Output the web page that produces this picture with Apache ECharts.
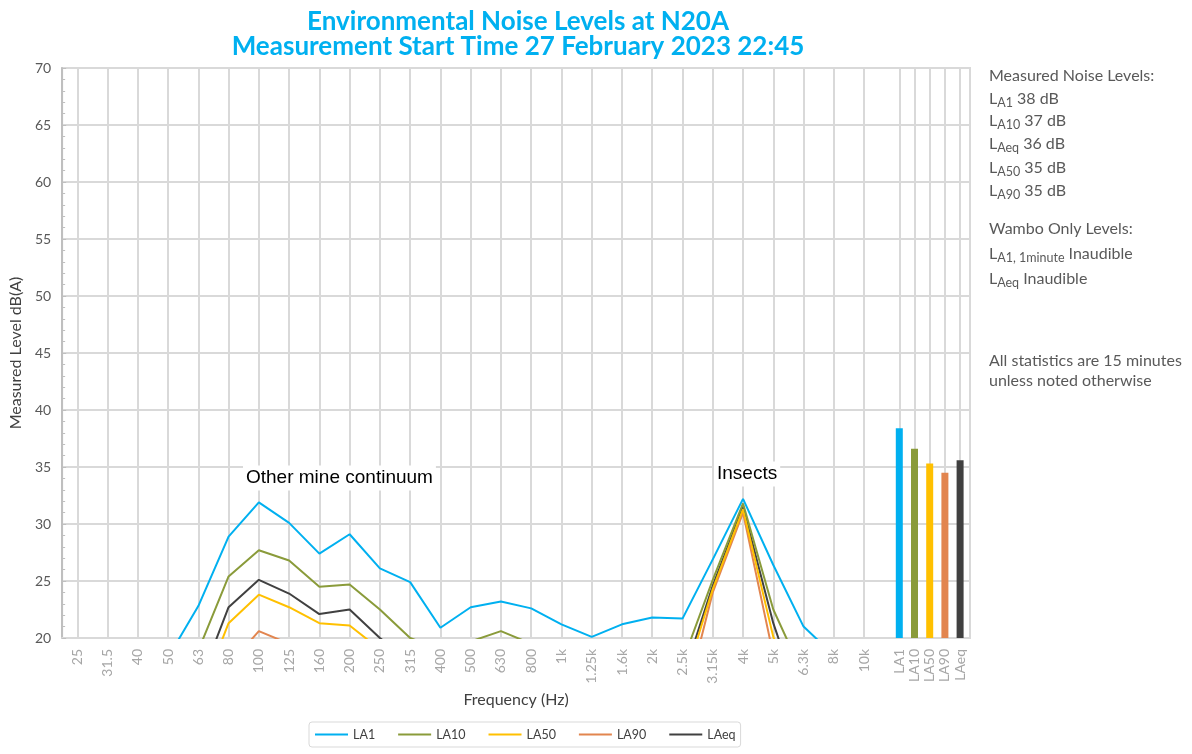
<!DOCTYPE html>
<html>
<head>
<meta charset="utf-8">
<script src="https://cdn.jsdelivr.net/npm/echarts@6/dist/echarts.min.js"></script>
<style>html,body{margin:0;padding:0;background:#fff;}#c{width:1192px;height:754px;}</style>
</head>
<body>
<div id="c"></div>
<script>
const freqLabels = ['25','31.5','40','50','63','80','100','125','160','200','250','315','400','500','630','800','1k','1.25k','1.6k','2k','2.5k','3.15k','4k','5k','6.3k','8k','10k'];
const LA1  = [13.0,14.5,16.0,18.3,22.8,28.9,31.9,30.1,27.4,29.1,26.1,24.9,20.9,22.7,23.2,22.6,21.2,20.1,21.2,21.8,21.7,26.9,32.2,26.4,21.0,18.5,16.0];
const LA10 = [10.5,12.0,14.0,16.5,18.9,25.4,27.7,26.8,24.5,24.7,22.5,20.0,19.0,19.7,20.6,19.5,18.5,17.8,18.3,18.6,17.9,25.1,31.8,22.5,16.7,14.5,12.5];
const LA50 = [8.0,9.5,11.0,13.0,14.5,21.3,23.8,22.7,21.3,21.1,19.0,17.0,15.5,16.0,16.5,16.0,15.0,14.5,15.0,15.5,15.7,24.3,31.3,20.1,14.0,11.5,9.5];
const LA90 = [6.5,8.0,9.5,11.5,13.5,17.6,20.6,19.5,18.5,18.0,16.5,15.0,13.5,14.0,14.5,14.0,13.0,12.5,13.0,13.0,13.5,24.0,31.0,18.5,12.5,10.0,8.0];
const LAeq = [10.0,11.5,13.0,14.5,15.8,22.7,25.1,23.9,22.1,22.5,20.0,18.0,16.8,17.5,18.2,17.5,16.5,16.0,16.5,16.8,16.4,24.6,31.5,21.3,13.5,12.0,10.0];
const overallNames  = ['LA1','LA10','LA50','LA90','LAeq'];
const overallValues = [38.4,36.6,35.3,34.5,35.6];
const seriesNames = ['LA1','LA10','LA50','LA90','LAeq'];
const colors = ['#00B0F0','#8A9B3A','#FFC000','#E2854F','#404040'];
const titleLines = ['Environmental Noise Levels at N20A','Measurement Start Time 27 February 2023 22:45'];
const sideNotes = [
  ['Measured Noise Levels:', null, ''],
  ['L', 'A1', ' 38 dB'],
  ['L', 'A10', ' 37 dB'],
  ['L', 'Aeq', ' 36 dB'],
  ['L', 'A50', ' 35 dB'],
  ['L', 'A90', ' 35 dB'],
  ['Wambo Only Levels:', null, ''],
  ['L', 'A1, 1minute', ' Inaudible'],
  ['L', 'Aeq', ' Inaudible'],
  ['All statistics are 15 minutes', null, ''],
  ['unless noted otherwise', null, '']
];
const sideNoteY = [76, 99, 121, 144, 168, 191, 229, 254, 279, 361, 381];

const FONT = 'Lato, "Open Sans", sans-serif';
const gridGray = '#d9d9d9';
const catData = freqLabels.concat(['', '', '']);

const chart = echarts.init(document.getElementById('c'));
const lineSeries = seriesNames.map((n, i) => ({
  name: n, type: 'line', xAxisIndex: 0, yAxisIndex: 0,
  data: [LA1, LA10, LA50, LA90, LAeq][i],
  symbol: 'none', clip: true,
  lineStyle: {color: colors[i], width: 2},
  itemStyle: {color: colors[i]},
  z: 10 - i
}));

const graphics = [];
titleLines.forEach((t, i) => {
  graphics.push({type: 'text', x: 518, y: 22 + i * 25, z: 100, style: {
    text: t, align: 'center', verticalAlign: 'middle',
    font: 'bold 26px ' + FONT, fill: '#00B0F0'}});
});
sideNotes.forEach((p, i) => {
  let txt;
  if (p[1] === null) txt = '{n|' + p[0] + '}';
  else txt = '{n|' + p[0] + '}{s|' + p[1] + '}{n|' + p[2] + '}';
  graphics.push({type: 'text', x: 989, y: sideNoteY[i], z: 100, style: {
    text: txt, verticalAlign: 'middle', align: 'left', fill: '#595959',
    rich: {
      n: {fontSize: 16, fontFamily: FONT, color: '#595959', lineHeight: 19},
      s: {fontSize: 12.5, fontFamily: FONT, color: '#595959', padding: [7, 0, 0, 0], lineHeight: 13}
    }}});
});
graphics.push({type: 'text', x: 243, y: 478, z: 100, style: {text: 'Other mine continuum', verticalAlign: 'middle',
  font: '19px "Liberation Sans", Arial, sans-serif', fill: '#000', backgroundColor: '#fff', padding: [3, 3]}});
graphics.push({type: 'text', x: 714, y: 474, z: 100, style: {text: 'Insects', verticalAlign: 'middle',
  font: '19px "Liberation Sans", Arial, sans-serif', fill: '#000', backgroundColor: '#fff', padding: [3, 3]}});

chart.setOption({
  animation: false,
  backgroundColor: '#fff',
  textStyle: {fontFamily: FONT},
  legend: {
    data: seriesNames, left: 309, top: 722, icon: 'rect', itemWidth: 33, itemHeight: 2,
    itemGap: 23, padding: [6, 5, 6, 6], borderColor: '#d9d9d9', borderWidth: 1, borderRadius: 3,
    textStyle: {fontSize: 12.5, color: '#404040', fontFamily: FONT}
  },
  grid: [
    {left: 62, top: 68, width: 908, height: 570, show: true, borderColor: gridGray, borderWidth: 2, containLabel: false},
    {left: 899.3, top: 68, width: 60.8, height: 570, containLabel: false}
  ],
  xAxis: [
    {type: 'category', gridIndex: 0, data: catData, boundaryGap: true,
     axisLine: {show: true, lineStyle: {color: gridGray, width: 2}},
     axisTick: {show: false},
     axisLabel: {rotate: 90, interval: 0, margin: 11, fontSize: 14, color: '#a6a6a6', fontFamily: FONT},
     splitLine: {show: true, alignWithLabel: true, interval: (i) => i < 27, lineStyle: {color: gridGray, width: 2}},
     name: 'Frequency (Hz)', nameLocation: 'middle', nameGap: 52,
     nameTextStyle: {fontSize: 16, color: '#404040', fontFamily: FONT}},
    {type: 'category', gridIndex: 1, data: overallNames, boundaryGap: false,
     axisLine: {show: false}, axisTick: {show: false},
     axisLabel: {rotate: 90, interval: 0, margin: 11, fontSize: 14, color: '#a6a6a6', fontFamily: FONT},
     splitLine: {show: true, lineStyle: {color: gridGray, width: 2}}}
  ],
  yAxis: [
    {type: 'value', gridIndex: 0, min: 20, max: 70, interval: 5,
     axisLine: {show: true, lineStyle: {color: '#bfbfbf', width: 2}},
     axisTick: {show: true, inside: true, length: 4, lineStyle: {color: '#bfbfbf'}},
     minorTick: {show: true, splitNumber: 5, length: 3, lineStyle: {color: '#bfbfbf'}},
     axisLabel: {fontSize: 14, color: '#595959', margin: 11, fontFamily: FONT},
     splitLine: {show: true, lineStyle: {color: gridGray, width: 2}},
     name: 'Measured Level dB(A)', nameLocation: 'middle', nameGap: 33,
     nameTextStyle: {fontSize: 16, color: '#404040', fontFamily: FONT}},
    {type: 'value', gridIndex: 1, min: 20, max: 70, interval: 5, show: false, splitLine: {show: false}}
  ],
  series: lineSeries.concat([{
    name: 'Overall', type: 'bar', xAxisIndex: 1, yAxisIndex: 1, barWidth: 7,
    data: overallValues.map((v, i) => ({value: v, itemStyle: {color: colors[i]}})), z: 5
  }]),
  graphic: graphics
});
</script>
</body>
</html>
